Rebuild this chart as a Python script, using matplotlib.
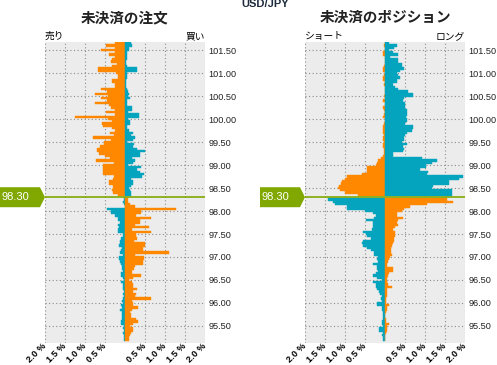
import numpy as np
import matplotlib.pyplot as plt
from matplotlib.patches import Polygon
from matplotlib.transforms import ScaledTranslation

plt.rcParams['font.family'] = ['Noto Sans CJK JP', 'DejaVu Sans']

ORANGE = '#FF8800'
TEAL = '#04A4BF'
GREEN = '#80A800'

pair = 'USD/JPY'
current_price = 98.30

# price buckets (0.05 wide), top to bottom
price_above = np.round(np.arange(101.65, 98.33, -0.05), 2)
price_below = np.round(np.arange(98.25, 95.18, -0.05), 2)

# ---- open orders (%) ----
orders_left_above = [
    0.25, 0.475, 0.25, 0.60, 0.25, 0.39, 0.25, 0.33, 0.35, 0.21,
    0.33, 0.68, 0.68, 0.225, 0.17, 0.17, 0.32, 0.32, 0.25, 0.25,
    0.60, 0.46, 0.75, 0.43, 0.60, 0.46, 0.75, 0.39, 0.35, 0.25,
    0.475, 0.25, 1.25, 0.42, 0.33, 0.58, 0.54, 0.33, 0.25, 0.375,
    0.27, 0.81, 0.36, 0.52, 0.52, 0.625, 0.71, 0.69, 0.64, 0.49,
    0.375, 0.725, 0.275, 0.54, 0.54, 0.56, 0.54, 0.54, 0.27, 0.29,
    0.39, 0.39, 0.31, 0.29, 0.33, 0.29, 0.18]
orders_right_above = [
    0.15, 0.17, 0.10, 0.10, 0.04, 0.04, 0.04, 0.04, 0.025, 0.025,
    0.04, 0.31, 0.31, 0.04, 0.06, 0.06, 0.025, 0.025, 0.025, 0.025,
    0.06, 0.08, 0.11, 0.07, 0.125, 0.04, 0.06, 0.04, 0.17, 0.17,
    0.08, 0.36, 0.36, 0.08, 0.125, 0.125, 0.04, 0.04, 0.10, 0.21,
    0.15, 0.25, 0.21, 0.06, 0.225, 0.19, 0.31, 0.50, 0.375, 0.375,
    0.17, 0.25, 0.21, 0.07, 0.39, 0.29, 0.375, 0.475, 0.42, 0.15,
    0.19, 0.19, 0.15, 0.11, 0.125, 0.15, 0.15]
orders_left_below = [
    0.025, 0.06, 0.02, 0.01, 0.46, 0.35, 0.35, 0.25, 0.17, 0.17,
    0.125, 0.17, 0.15, 0.18, 0.17, 0.04, 0.04, 0.11, 0.125, 0.125,
    0.14, 0.07, 0.11, 0.125, 0.06, 0.14, 0.14, 0.125, 0.11, 0.08,
    0.08, 0.06, 0.10, 0.11, 0.06, 0.03, 0.10, 0.06, 0.06, 0.04,
    0.025, 0.04, 0.025, 0.04, 0.08, 0.06, 0.11, 0.08, 0.125, 0.08,
    0.07, 0.07, 0.08, 0.11, 0.10, 0.025, 0.04, 0.025, 0.04, 0.02,
    0.025, 0.025]
orders_right_below = [
    0.08, 0.08, 0.125, 0.25, 1.275, 0.40, 0.40, 0.275, 0.65, 0.375,
    0.375, 0.25, 0.60, 0.17, 0.65, 0.275, 0.275, 0.29, 0.23, 0.50,
    0.50, 0.46, 0.44, 1.11, 0.25, 0.475, 0.475, 0.44, 0.44, 0.25,
    0.225, 0.17, 0.17, 0.40, 0.21, 0.11, 0.17, 0.21, 0.21, 0.29,
    0.19, 0.275, 0.25, 0.65, 0.17, 0.21, 0.19, 0.33, 0.17, 0.125,
    0.15, 0.15, 0.275, 0.32, 0.21, 0.125, 0.19, 0.19, 0.14, 0.125,
    0.11, 0.11]

# ---- open positions (%) ----
positions_left_above = [
    0.0, 0.02, 0.0, 0.0, 0.04, 0.04, 0.0, 0.0, 0.0, 0.0,
    0.025, 0.04, 0.04, 0.0, 0.025, 0.06, 0.06, 0.0, 0.025, 0.0,
    0.0, 0.0, 0.0, 0.025, 0.0, 0.04, 0.0, 0.0, 0.04, 0.025,
    0.0, 0.025, 0.04, 0.0, 0.0, 0.025, 0.04, 0.06, 0.06, 0.04,
    0.025, 0.06, 0.04, 0.025, 0.06, 0.04, 0.025, 0.025, 0.025, 0.04,
    0.10, 0.18, 0.21, 0.225, 0.46, 0.46, 0.46, 0.58, 0.96, 1.0,
    1.08, 1.11, 1.14, 1.17, 1.125, 1.0, 0.67]
positions_right_above = [
    0.11, 0.29, 0.225, 0.11, 0.19, 0.33, 0.125, 0.33, 0.33, 0.42,
    0.42, 0.475, 0.375, 0.29, 0.33, 0.375, 0.29, 0.29, 0.19, 0.25,
    0.33, 0.58, 0.69, 0.69, 0.475, 0.44, 0.50, 0.50, 0.50, 0.54,
    0.54, 0.54, 0.525, 0.56, 0.56, 0.50, 0.69, 0.69, 0.67, 0.56,
    0.50, 0.475, 0.475, 0.42, 0.54, 0.46, 0.475, 0.44, 0.21, 0.19,
    0.92, 1.31, 1.17, 1.025, 1.025, 0.875, 1.08, 1.04, 1.96, 1.86,
    1.61, 1.61, 1.21, 1.17, 1.67, 1.67, 1.67]
positions_left_below = [
    1.42, 1.29, 1.25, 0.96, 0.96, 0.50, 0.29, 0.225, 0.275, 0.475,
    0.29, 0.31, 0.31, 0.33, 0.54, 0.475, 0.44, 0.36, 0.56, 0.58,
    0.56, 0.46, 0.36, 0.275, 0.275, 0.17, 0.21, 0.17, 0.31, 0.21,
    0.21, 0.17, 0.225, 0.31, 0.19, 0.08, 0.31, 0.225, 0.225, 0.19,
    0.14, 0.125, 0.08, 0.11, 0.08, 0.21, 0.19, 0.08, 0.08, 0.06,
    0.06, 0.06, 0.06, 0.08, 0.08, 0.06, 0.14, 0.14, 0.04, 0.08,
    0.06, 0.06]
positions_right_below = [
    1.54, 1.71, 1.04, 0.625, 0.475, 0.42, 0.29, 0.29, 0.44, 0.33,
    0.29, 0.33, 0.25, 0.21, 0.25, 0.25, 0.25, 0.225, 0.225, 0.21,
    0.17, 0.15, 0.14, 0.14, 0.17, 0.125, 0.11, 0.08, 0.06, 0.04,
    0.19, 0.19, 0.11, 0.08, 0.06, 0.04, 0.04, 0.08, 0.17, 0.06,
    0.04, 0.04, 0.04, 0.025, 0.025, 0.025, 0.11, 0.04, 0.04, 0.025,
    0.01, 0.01, 0.025, 0.025, 0.11, 0.06, 0.06, 0.04, 0.025, 0.01,
    0.01, 0.01]

yticks = [95.5, 96.0, 96.5, 97.0, 97.5, 98.0, 98.5, 99.0, 99.5, 100.0, 100.5, 101.0, 101.5]
xticks = [-2.0, -1.5, -1.0, -0.5, 0.5, 1.0, 1.5, 2.0]

fig = plt.figure(figsize=(4.97, 3.65), dpi=100)
W, H = 497, 365


def make_axes(x0):
    return fig.add_axes([x0 / W, (H - 343) / H, 160 / W, 301 / H])


def draw(ax, la, ra, lb, rb, title, left_lab, right_lab):
    ax.set_facecolor('#ECECEC')
    for s in ax.spines.values():
        s.set_visible(False)
    ax.barh(price_above, [-v for v in la], height=0.05, color=ORANGE, edgecolor=ORANGE, lw=0.3)
    ax.barh(price_above, ra, height=0.05, color=TEAL, edgecolor=TEAL, lw=0.3)
    ax.barh(price_below, [-v for v in lb], height=0.05, color=TEAL, edgecolor=TEAL, lw=0.3)
    ax.barh(price_below, rb, height=0.05, color=ORANGE, edgecolor=ORANGE, lw=0.3)
    ax.set_xlim(-2, 2)
    ax.set_ylim(95.13, 101.675)
    ax.set_axisbelow(True)
    ax.set_xticks(xticks)
    ax.set_xticklabels(['%.1f %%' % abs(v) for v in xticks], rotation=45, rotation_mode='anchor',
                       ha='right', va='center', fontsize=6.6, fontweight='bold', family='Liberation Sans')
    off = ScaledTranslation(5 / 100, -1.5 / 100, fig.dpi_scale_trans)
    for lab in ax.get_xticklabels():
        lab.set_transform(lab.get_transform() + off)
    ax.set_yticks(yticks)
    ax.set_yticklabels(['%.2f' % v for v in yticks], fontsize=6.6, color='#222222', family='Liberation Sans')
    ax.yaxis.tick_right()
    ax.tick_params(length=0, pad=2.5)
    ax.tick_params(axis='x', pad=1)
    ax.grid(True, color='#8C8C8C', linestyle=(0, (1, 2.2)), lw=0.8)
    ax.axhline(current_price, color=GREEN, lw=1.2)
    ax.text(0.5, 1 + 25 / 301, title, transform=ax.transAxes, ha='center', va='center',
            fontsize=10.5, fontweight='bold', color='#222222')
    ax.text(0, 1 + 6 / 301, left_lab, transform=ax.transAxes, ha='left', va='center', fontsize=7)
    ax.text(1, 1 + 6 / 301, right_lab, transform=ax.transAxes, ha='right', va='center', fontsize=7)
    # current price tag
    tr = ax.get_yaxis_transform()
    hh = 10 / 46
    pts = [(-45 / 160, current_price - hh), (-5 / 160, current_price - hh), (0, current_price),
           (-5 / 160, current_price + hh), (-45 / 160, current_price + hh)]
    ax.add_patch(Polygon(pts, closed=True, transform=tr, facecolor=GREEN, edgecolor='none', clip_on=False))
    ax.text(-44 / 160, current_price + 0.01, '%.2f' % current_price, transform=tr, ha='left', va='center',
            fontsize=8, color='white', family='Liberation Sans')


ax1 = make_axes(45)
draw(ax1, orders_left_above, orders_right_above, orders_left_below, orders_right_below,
     '未決済の注文', '売り', '買い')
ax2 = make_axes(305)
draw(ax2, positions_left_above, positions_right_above, positions_left_below, positions_right_below,
     '未決済のポジション', 'ショート', 'ロング')

fig.text(265 / W, 1 - 4 / H, pair, ha='center', va='center', fontsize=8, fontweight='bold',
         color='#1C2A3C', family='Liberation Sans')

fig.savefig('out.png', dpi=100, facecolor='white')
